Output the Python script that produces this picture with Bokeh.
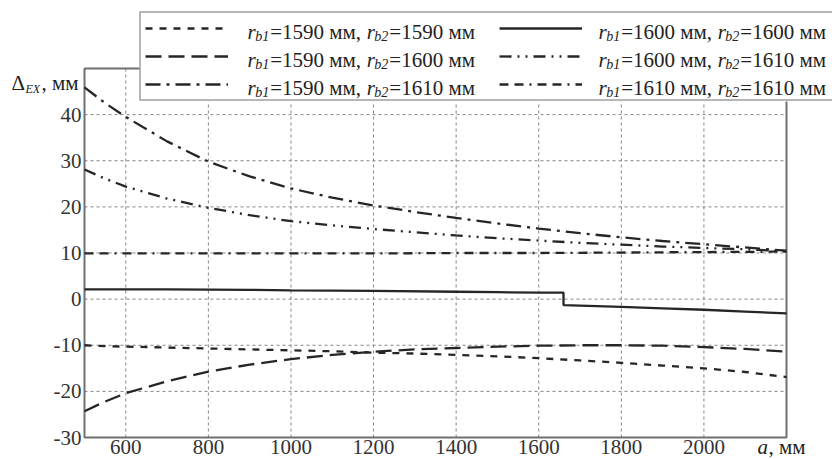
from bokeh.plotting import figure
from bokeh.models import (Range1d, FixedTicker, Legend, LegendItem, Label,
                          PrintfTickFormatter, BoxAnnotation)
from bokeh.core.properties import value
from bokeh.embed import file_html
from bokeh.resources import INLINE

# ---------------- data ----------------
A = [500, 550, 600, 700, 800, 900, 1000, 1100, 1200, 1300, 1400, 1500,
     1600, 1700, 1800, 1900, 2000, 2100, 2200]
d_1590_1590 = [-10.0, -10.2, -10.3, -10.5, -10.7, -10.9, -11.1, -11.3, -11.6, -11.8,
               -12.1, -12.4, -12.8, -13.3, -13.8, -14.4, -15.0, -15.8, -16.9]
d_1590_1600 = [-24.3, -22.2, -20.4, -17.8, -15.7, -14.2, -13.0, -12.1, -11.4, -10.9,
               -10.6, -10.3, -10.1, -10.0, -10.0, -10.1, -10.4, -10.8, -11.4]
d_1590_1610 = [45.9, 42.5, 39.5, 34.2, 29.8, 26.6, 24.0, 22.0, 20.3, 18.9,
               17.6, 16.4, 15.3, 14.3, 13.4, 12.6, 11.9, 11.2, 10.5]
A_1600_1600 = [500, 700, 900, 1000, 1200, 1400, 1500, 1600, 1660, 1660, 1700,
               1800, 1900, 2000, 2100, 2200]
d_1600_1600 = [2.1, 2.1, 2.0, 1.9, 1.8, 1.6, 1.5, 1.4, 1.4, -1.3, -1.4,
               -1.7, -2.0, -2.3, -2.7, -3.1]
d_1600_1610 = [28.1, 26.1, 24.4, 21.8, 19.8, 18.2, 16.9, 16.0, 15.2, 14.5,
               13.8, 13.2, 12.7, 12.2, 11.8, 11.4, 11.1, 10.8, 10.4]
A_1610_1610 = [500, 800, 1200, 1400, 1600, 1800, 2000, 2200]
d_1610_1610 = [9.9, 9.9, 9.9, 10.0, 10.0, 10.1, 10.2, 10.3]

RB1 = [1590, 1590, 1590, 1600, 1600, 1610]
RB2 = [1590, 1600, 1610, 1600, 1610, 1610]
X_TICKS = [600, 800, 1000, 1200, 1400, 1600, 1800, 2000]
Y_TICKS = [-30, -20, -10, 0, 10, 20, 30, 40]
X_MIN, X_MAX = 500, 2200
Y_MIN, Y_MAX = -30, 50

# ---------------- layout (pixels) ----------------
W, H = 832, 459
BOX_L, BOX_R, BOX_T, BOX_B = 84, 786, 68, 437
FONT = "Liberation Serif"
GRAY = "#707070"
INK = "#262626"

kx = (BOX_R - BOX_L) / (X_MAX - X_MIN)
ky = (BOX_B - BOX_T) / (Y_MAX - Y_MIN)
x_range = Range1d(X_MIN - BOX_L / kx, X_MAX + (W - BOX_R) / kx)
y_range = Range1d(Y_MIN - (H - BOX_B) / ky, Y_MAX + BOX_T / ky)

p = figure(width=W, height=H, x_range=x_range, y_range=y_range,
           output_backend="svg", toolbar_location=None,
           min_border_left=0, min_border_right=0, min_border_top=0, min_border_bottom=0)
p.background_fill_color = "white"
p.border_fill_color = "white"
p.outline_line_color = None
p.xgrid.visible = False
p.ygrid.visible = False

# axes fixed at the box edges
p.xaxis.fixed_location = Y_MIN
p.xaxis.bounds = (X_MIN, X_MAX)
p.yaxis.fixed_location = X_MIN
p.yaxis.bounds = (Y_MIN, Y_MAX)
p.yaxis.formatter = PrintfTickFormatter(format="%d")
for ax, ticks in ((p.xaxis, X_TICKS), (p.yaxis, Y_TICKS)):
    ax.ticker = FixedTicker(ticks=ticks)
    ax.major_label_text_font = FONT
    ax.major_label_text_font_size = "21px"
    ax.major_label_text_color = "#333333"
    ax.major_tick_line_color = None
    ax.minor_tick_line_color = None
    ax.major_tick_out = 0
    ax.major_tick_in = 0
    ax.minor_tick_out = 0
    ax.axis_line_color = None
p.xaxis.major_label_standoff = 2
p.yaxis.major_label_standoff = 3

# grid lines (dashed) inside the box
ny, nx = len(Y_TICKS), len(X_TICKS)
p.segment(x0=X_TICKS, y0=[Y_MIN] * nx, x1=X_TICKS, y1=[Y_MAX] * nx,
          line_color="#858585", line_width=1, line_dash="3 3")
p.segment(x0=[X_MIN] * ny, y0=Y_TICKS, x1=[X_MAX] * ny, y1=Y_TICKS,
          line_color="#858585", line_width=1, line_dash="3 3")
# box
p.quad(left=[X_MIN], right=[X_MAX], bottom=[Y_MIN], top=[Y_MAX],
       fill_color=None, line_color=GRAY, line_width=2)

LW = 2.3
r1 = p.line(A, d_1590_1590, line_color=INK, line_width=LW, line_dash="7 7")
r2 = p.line(A, d_1590_1600, line_color=INK, line_width=LW, line_dash="16 7")
r3 = p.line(A, d_1590_1610, line_color=INK, line_width=LW, line_dash="15 6 3 6")
r4 = p.line(A_1600_1600, d_1600_1600, line_color=INK, line_width=LW)
r5 = p.line(A, d_1600_1610, line_color=INK, line_width=LW, line_dash="12 6 2 6 2 6")
r6 = p.line(A_1610_1610, d_1610_1610, line_color=INK, line_width=LW, line_dash="9 6 9 6 2 6")
renderers = [r1, r2, r3, r4, r5, r6]

LEG_L, LEG_T, LEG_PAD, G_H, SP = 139, 15, 4, 22, 6
LEG_H = 2 * LEG_PAD + 3 * G_H + 2 * SP

# white backing of the legend (legend itself is transparent so texts show)
p.add_layout(BoxAnnotation(left=LEG_L, right=W + 20, top=H - LEG_T, bottom=H - (LEG_T + LEG_H),
                           left_units="screen", right_units="screen",
                           top_units="screen", bottom_units="screen",
                           fill_color="white", fill_alpha=1.0, line_color=None,
                           level="annotation"))

legend = Legend(items=[LegendItem(label=value(" "), renderers=[r]) for r in renderers],
                orientation="vertical", nrows=3,
                glyph_width=83, glyph_height=G_H, label_standoff=20,
                label_width=245, label_height=G_H, spacing=SP, padding=LEG_PAD, margin=0,
                border_line_color=GRAY, border_line_width=2,
                background_fill_alpha=0.0,
                label_text_font_size="10px",
                location=(LEG_L, H - (LEG_T + LEG_H)))
p.add_layout(legend)

EM = {"=": .564, " ": .25, ",": .25, "м": .64}


def width(s, size):
    return sum(EM.get(ch, .5) for ch in s) * size


def lab(x, y, text, size, italic=False, baseline="middle"):
    p.add_layout(Label(x=x, y=H - y, x_units="screen", y_units="screen", text=text,
                       text_font=FONT, text_font_size=f"{size}px",
                       text_font_style="italic" if italic else "normal",
                       text_color="#222222", text_baseline=baseline, text_align="left",
                       level="overlay"))


F, S = 21, 14
for k in range(6):
    col, row = divmod(k, 3)
    x = [247, 598][col]
    y = LEG_T + LEG_PAD + G_H / 2 + (G_H + SP) * row + 1
    for sub, val, tail in (("b1", RB1[k], " мм,"), ("b2", RB2[k], " мм")):
        lab(x, y, "r", F, italic=True)
        x += 0.389 * F - 0.5
        lab(x, y + 5, sub, S, italic=True)
        x += 2 * 0.5 * S + 1
        t = f"={val}{tail}"
        lab(x, y, t, F)
        x += width(t + " ", F)

# axis titles
lab(11, 82, "Δ", 21)
lab(25, 88, "EX", 12, italic=True)
lab(41, 82, ", мм", 21)
lab(757, 458, "а", 21, italic=True, baseline="bottom")
lab(768, 458, ", мм", 21, baseline="bottom")

open("out.html", "w").write(file_html(p, INLINE))
